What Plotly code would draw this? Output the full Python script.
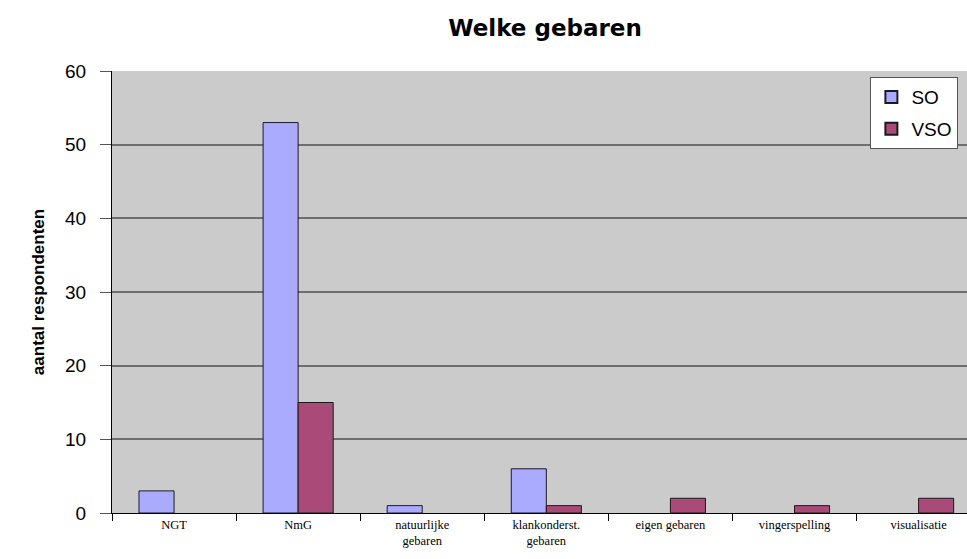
import plotly.graph_objects as go

categories = ["NGT", "NmG", "natuurlijke<br>gebaren", "klankonderst.<br>gebaren",
              "eigen gebaren", "vingerspelling", "visualisatie"]
so_values = [3, 53, 1, 6, 0, 0, 0]
vso_values = [0, 15, 0, 1, 2, 1, 2]
y_ticks = [0, 10, 20, 30, 40, 50, 60]


def nonzero(vals):
    return [v if v else None for v in vals]


W, H = 967, 559

fig = go.Figure()
fig.add_trace(go.Bar(x=categories, y=nonzero(so_values), name="SO", legendgroup="so",
                     marker=dict(color="#aaaaff", line=dict(color="#1a1a2a", width=1))))
fig.add_trace(go.Bar(x=categories, y=nonzero(vso_values), name="VSO", legendgroup="vso",
                     marker=dict(color="#aa4a78", line=dict(color="#1a1a1a", width=1))))

fig.update_layout(
    width=W, height=H,
    barmode="group", bargap=0.435, bargroupgap=0,
    paper_bgcolor="white", plot_bgcolor="#cbcbcb",
    margin=dict(l=112, r=0, t=71, b=46, autoexpand=False),
    title=dict(text="<b>Welke gebaren</b>", x=545/W, xanchor="center", y=1 - 28/H,
               yanchor="middle",
               font=dict(family="DejaVu Sans, Arial", size=23, color="black")),
    showlegend=True,
    legend=dict(x=0.887, y=0.986, xanchor="left", yanchor="top",
                bgcolor="white", bordercolor="#555555", borderwidth=1,
                font=dict(family="Liberation Sans, Arial", size=19, color="black"),
                tracegroupgap=4, itemsizing="constant"),
    font=dict(family="Liberation Sans, Arial", color="black"),
)
fig.update_xaxes(type="category", range=[-0.5, 6.39], autorange=False,
                 showline=True, linecolor="black", linewidth=1,
                 ticks="outside", tickson="boundaries", ticklen=7, tickcolor="black",
                 tickfont=dict(family="Liberation Serif, Times New Roman", size=12.5, color="black"),
                 showgrid=False)
fig.update_yaxes(range=[0, 60], tickvals=y_ticks, showline=True, linecolor="black", linewidth=1,
                 ticks="outside", ticklen=11, tickcolor="#555555", ticklabelstandoff=10,
                 tickfont=dict(family="Liberation Sans, Arial", size=19, color="black"),
                 showgrid=True, gridcolor="#6e6e6e", gridwidth=1.5, zeroline=False,
                 title=dict(text="<b>aantal respondenten</b>", standoff=16,
                            font=dict(family="Liberation Sans, Arial", size=17, color="black")))

fig.write_html("out.html", config={"displayModeBar": False},
               post_script="document.body.style.margin='0';document.body.style.overflow='hidden';")
